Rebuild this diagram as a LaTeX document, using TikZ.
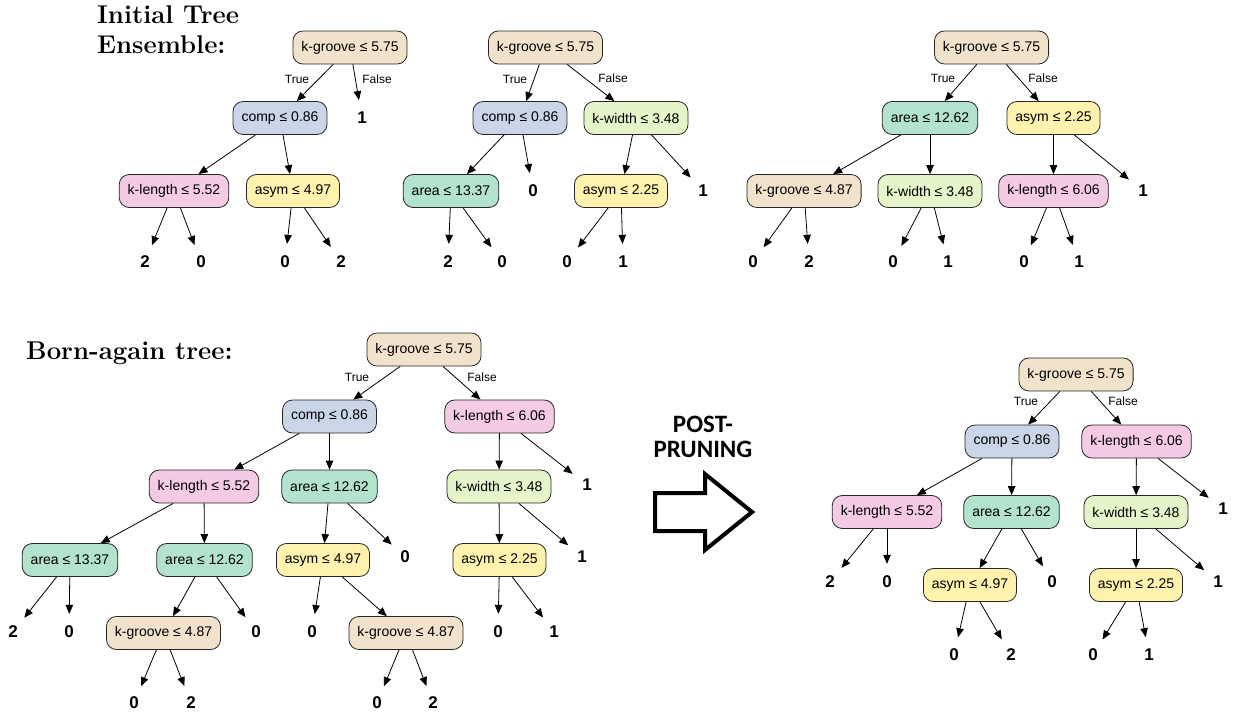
\documentclass[tikz,border=0pt]{standalone}
\usepackage{fontspec}
\newfontfamily\helv{Liberation Sans}
\newfontfamily\calib{Carlito}
\usetikzlibrary{arrows.meta}
\definecolor{groovecol}{HTML}{F1E2CC}
\definecolor{compcol}{HTML}{CBD5E8}
\definecolor{lencol}{HTML}{F4CAE4}
\definecolor{asymcol}{HTML}{FFF2AE}
\definecolor{areacol}{HTML}{B3E2CD}
\definecolor{widcol}{HTML}{E6F5C9}
\begin{document}
\begin{tikzpicture}[x=1pt,y=-1pt,
  box/.style={draw=black!85,line width=0.8pt,rounded corners=10pt,minimum height=33pt,inner xsep=8.5pt,font=\helv\fontsize{14}{16}\selectfont},
  groove/.style={box,fill=groovecol},
  comp/.style={box,fill=compcol},
  len/.style={box,fill=lencol},
  asym/.style={box,fill=asymcol},
  area/.style={box,fill=areacol},
  wid/.style={box,fill=widcol},
  leaf/.style={circle,minimum size=36pt,inner sep=0pt,font=\helv\bfseries\fontsize{17}{20}\selectfont},
  lab/.style={font=\helv\fontsize{12}{14}\selectfont},
  branch/.style={-{Triangle[length=9pt,width=7.5pt]},line width=0.8pt}]
\useasboundingbox (0,0) rectangle (1233,717);

% Titles
\node[anchor=north west,inner sep=0pt,align=left,font=\bfseries\fontsize{25.7}{30}\selectfont] (title1) at (97,5) {Initial Tree\\Ensemble:};
\node[anchor=base west,inner sep=0pt,font=\bfseries\fontsize{25.7}{30}\selectfont] (title2) at (26,359) {Born-again tree:};

% Ensemble tree 1
\node[groove] (a0) at (350,47.5) {k-groove ≤ 5.75};
\node[comp] (a1) at (280,118) {comp ≤ 0.86};
\node[len] (a3) at (174,191) {k-length ≤ 5.52};
\node[asym] (a4) at (293,191) {asym ≤ 4.97};
\foreach \n/\x/\y/\v in {a2/362/118/1, a5/145/262/2, a6/201/262/0, a7/285/262/0, a8/341/262/2}
  \node[leaf] (\n) at (\x,\y) {\v};
\node[lab] (a0t) at (297,79) {True};
\node[lab] (a0f) at (377,79) {False};

% Ensemble tree 2
\node[groove] (b0) at (545.5,47.5) {k-groove ≤ 5.75};
\node[comp] (b1) at (520,118) {comp ≤ 0.86};
\node[wid] (b2) at (636,118) {k-width ≤ 3.48};
\node[area] (b3) at (451,191) {area ≤ 13.37};
\node[asym] (b5) at (621,191) {asym ≤ 2.25};
\foreach \n/\x/\y/\v in {b4/533/191/0, b6/703/191/1, b7/448/262/2, b8/502/262/0, b9/567/262/0, b10/623/262/1}
  \node[leaf] (\n) at (\x,\y) {\v};
\node[lab] (b0t) at (515,79) {True};
\node[lab] (b0f) at (613,78) {False};

% Ensemble tree 3
\node[groove] (c0) at (991.5,47.5) {k-groove ≤ 5.75};
\node[area] (c1) at (930,118) {area ≤ 12.62};
\node[asym] (c2) at (1053.5,118) {asym ≤ 2.25};
\node[groove] (c3) at (804,191) {k-groove ≤ 4.87};
\node[wid] (c4) at (930,191) {k-width ≤ 3.48};
\node[len] (c5) at (1053.5,191) {k-length ≤ 6.06};
\foreach \n/\x/\y/\v in {c6/1143/191/1, c7/753/262/0, c8/809/262/2, c9/893/262/0, c10/948/262/1, c11/1024/262/0, c12/1079/262/1}
  \node[leaf] (\n) at (\x,\y) {\v};
\node[lab] (c0t) at (943,78) {True};
\node[lab] (c0f) at (1043,78) {False};

% Born-again tree
\node[groove] (d0) at (424,349.5) {k-groove ≤ 5.75};
\node[comp] (d1) at (329.5,416.5) {comp ≤ 0.86};
\node[len] (d2) at (499.5,416.5) {k-length ≤ 6.06};
\node[len] (d3) at (204,486.5) {k-length ≤ 5.52};
\node[area] (d4) at (329.5,486.5) {area ≤ 12.62};
\node[wid] (d5) at (499,486.5) {k-width ≤ 3.48};
\node[area] (d7) at (70,560) {area ≤ 13.37};
\node[area] (d8) at (204.5,560) {area ≤ 12.62};
\node[asym] (d9) at (323,560) {asym ≤ 4.97};
\node[asym] (d11) at (499.5,560) {asym ≤ 2.25};
\node[groove] (d15) at (163.5,633) {k-groove ≤ 4.87};
\node[groove] (d18) at (406,633) {k-groove ≤ 4.87};
\foreach \n/\x/\y/\v in {d6/587/485/1, d10/405/557/0, d12/582/557/1, d13/13/632/2, d14/69/632/0,
    d16/256/632/0, d17/312/632/0, d19/498/632/0, d20/554/632/1,
    d21/134/703/0, d22/191/703/2, d23/377/703/0, d24/433/703/2}
  \node[leaf] (\n) at (\x,\y) {\v};
\node[lab] (d0t) at (357,377) {True};
\node[lab] (d0f) at (482,377) {False};

% Pruned tree
\node[groove] (e0) at (1076,374.5) {k-groove ≤ 5.75};
\node[comp] (e1) at (1012,441.5) {comp ≤ 0.86};
\node[len] (e2) at (1136.5,441.5) {k-length ≤ 6.06};
\node[len] (e3) at (887,512) {k-length ≤ 5.52};
\node[area] (e4) at (1011.5,512) {area ≤ 12.62};
\node[wid] (e5) at (1136,512) {k-width ≤ 3.48};
\node[asym] (e9) at (970,585) {asym ≤ 4.97};
\node[asym] (e11) at (1136,585) {asym ≤ 2.25};
\foreach \n/\x/\y/\v in {e6/1223/509/1, e7/830/582/2, e8/887/582/0, e10/1052/582/0, e12/1218/582/1,
    e13/954/655/0, e14/1011/655/2, e15/1093/655/0, e16/1149/655/1}
  \node[leaf] (\n) at (\x,\y) {\v};
\node[lab] (e0t) at (1026,401) {True};
\node[lab] (e0f) at (1123,401) {False};

% Branches
\foreach \p/\c in {a0/a1, a0/a2, a1/a3, a1/a4, a3/a5, a3/a6, a4/a7, a4/a8,
    b0/b1, b0/b2, b1/b3, b1/b4, b2/b5, b2/b6, b3/b7, b3/b8, b5/b9, b5/b10,
    c0/c1, c0/c2, c1/c3, c1/c4, c2/c5, c2/c6, c3/c7, c3/c8, c4/c9, c4/c10, c5/c11, c5/c12,
    d0/d1, d0/d2, d1/d3, d1/d4, d2/d5, d2/d6, d3/d7, d3/d8, d4/d9, d4/d10, d5/d11, d5/d12,
    d7/d13, d7/d14, d8/d15, d8/d16, d9/d17, d9/d18, d11/d19, d11/d20, d15/d21, d15/d22, d18/d23, d18/d24,
    e0/e1, e0/e2, e1/e3, e1/e4, e2/e5, e2/e6, e3/e7, e3/e8, e4/e9, e4/e10, e5/e11, e5/e12,
    e9/e13, e9/e14, e11/e15, e11/e16}
  \draw[branch] (\p) -- (\c);

% Post-pruning arrow
\node[align=center,inner sep=0pt,font=\calib\bfseries\fontsize{25}{25.7}\selectfont] (prune) at (703,437) {POST-\\PRUNING};
\draw[line width=4pt,miter limit=10] (655,493) -- (705,493) -- (705,474) -- (752,512) -- (705,550) -- (705,531) -- (655,531) -- cycle;
\end{tikzpicture}
\end{document}
